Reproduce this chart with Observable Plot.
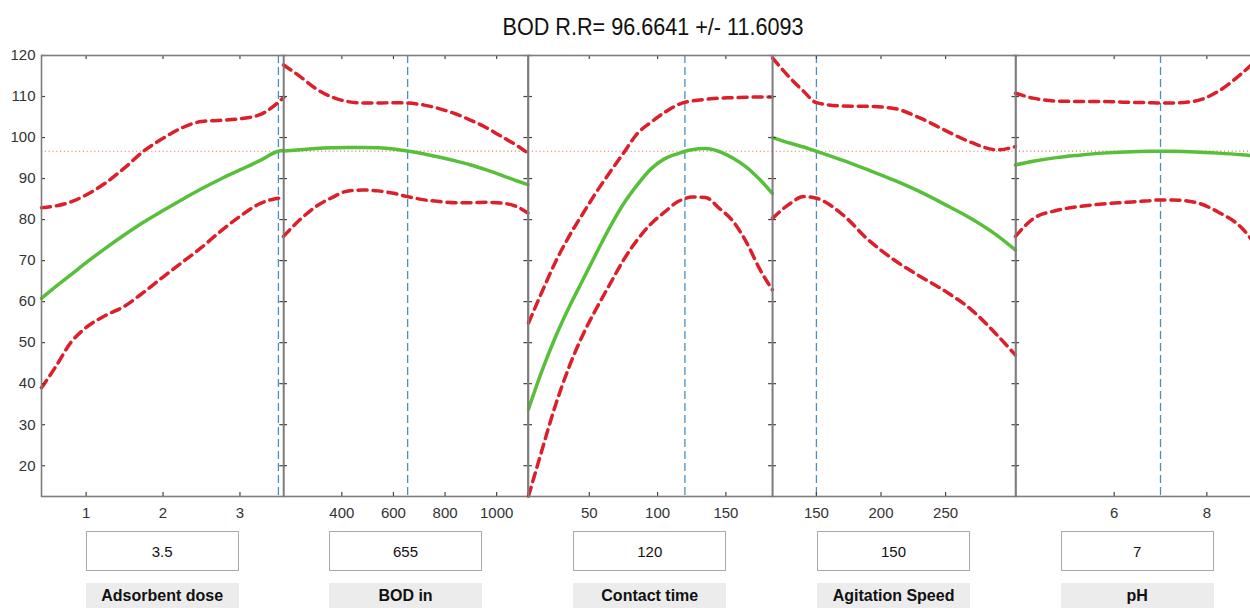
<!DOCTYPE html>
<html>
<head>
<meta charset="utf-8">
<script src="https://cdn.jsdelivr.net/npm/d3@7"></script>
<script src="https://cdn.jsdelivr.net/npm/@observablehq/plot@0.6"></script>
<style>
  html, body { margin: 0; padding: 0; background: #fff; }
  body { width: 1250px; height: 608px; overflow: hidden; position: relative;
         font-family: "Liberation Sans", Arial, Helvetica, sans-serif; }
  #title { position: absolute; left: 353px; width: 600px; top: 13px; text-align: center;
           font-size: 24px; color: #111; white-space: nowrap; transform: scaleX(0.9); }
  .panel { position: absolute; top: 0; }
  .valbox { position: absolute; top: 531px; height: 40px; width: 153px; box-sizing: border-box;
            border: 1px solid #a9a9a9; background: #fff; display: flex; align-items: center;
            justify-content: center; font-size: 15px; color: #111; }
  .namebox { position: absolute; top: 583px; height: 30px; width: 153px; background: #ececec;
             text-align: center; font-size: 16px; font-weight: bold; line-height: 26px; color: #111; }
</style>
</head>
<body>
<div id="title"></div>
<div id="chart"></div>
<script>
// ---------- data ----------
const titleText = "BOD R.R= 96.6641 +/- 11.6093";
const predicted = 96.6641;

const factorNames = ["Adsorbent dose", "BOD in", "Contact time", "Agitation Speed", "pH"];
const currentValues = [3.5, 655, 120, 150, 7];
const xDomains = [[0.42, 3.57], [174, 1121], [5.5, 184.2], [116, 304.5], [3.87, 9.13]];
const xTicks = [[1, 2, 3], [400, 600, 800, 1000], [50, 100, 150], [150, 200, 250], [6, 8]];
const yDomain = [12.5, 120];
const yTicks = [20, 30, 40, 50, 60, 70, 80, 90, 100, 110, 120];

// Adsorbent dose
const doseX     = [0.42, 0.6, 0.8, 1.0, 1.25, 1.5, 1.75, 2.0, 2.25, 2.5, 2.75, 3.0, 3.25, 3.5, 3.57];
const doseFit   = [60.8, 63.6, 66.5, 69.5, 73.0, 76.3, 79.4, 82.2, 84.9, 87.5, 89.9, 92.1, 94.3, 96.66, 96.9];
const doseUpper = [82.9, 83.3, 84.3, 86.0, 88.9, 92.6, 96.7, 99.8, 102.4, 103.9, 104.2, 104.6, 105.5, 108.6, 109.8];
const doseLower = [39.0, 44.0, 50.0, 53.7, 56.6, 58.9, 62.3, 66.0, 69.6, 73.2, 77.2, 80.8, 83.8, 85.2, 85.3];

// BOD in
const bodX     = [174, 240, 300, 360, 420, 480, 540, 600, 655, 720, 780, 840, 900, 960, 1020, 1080, 1121];
const bodFit   = [96.7, 97.0, 97.3, 97.5, 97.6, 97.6, 97.5, 97.2, 96.7, 96.0, 95.2, 94.3, 93.3, 92.1, 90.8, 89.4, 88.5];
const bodUpper = [117.7, 114.8, 111.9, 109.9, 108.8, 108.4, 108.4, 108.5, 108.4, 107.9, 107.0, 105.8, 104.2, 102.4, 100.2, 98.0, 96.2];
const bodLower = [75.9, 80.1, 83.2, 85.3, 86.9, 87.2, 87.0, 86.4, 85.6, 84.8, 84.4, 84.1, 84.1, 84.2, 84.0, 83.1, 81.6];

// Contact time
const timeX     = [5.5, 15, 25, 35, 45, 55, 65, 75, 85, 95, 105, 115, 120, 125, 135, 145, 155, 165, 175, 184];
const timeFit   = [33.8, 42.8, 51.2, 58.5, 65.1, 71.7, 78.1, 83.8, 88.4, 92.3, 94.8, 96.1, 96.66, 97.0, 97.3, 96.6, 95.0, 92.8, 89.7, 86.4];
const timeUpper = [54.8, 62.1, 69.5, 75.8, 81.3, 86.6, 91.5, 96.2, 100.9, 103.7, 106.1, 108.0, 108.6, 108.9, 109.3, 109.6, 109.7, 109.8, 109.9, 109.9];
const timeLower = [12.6, 23.4, 34.5, 43.9, 51.7, 58.2, 64.2, 70.1, 75.0, 78.9, 81.8, 84.4, 85.1, 85.5, 85.4, 82.8, 79.7, 74.5, 67.8, 62.9];

// Agitation speed
const speedX     = [116, 130, 140, 150, 170, 190, 210, 230, 250, 270, 290, 304];
const speedFit   = [100.0, 98.6, 97.7, 96.66, 94.5, 92.1, 89.6, 86.8, 83.6, 80.2, 76.1, 72.6];
const speedUpper = [119.4, 114.4, 111.3, 108.5, 107.7, 107.6, 107.1, 104.8, 101.7, 98.8, 97.0, 97.8];
const speedLower = [80.3, 84.0, 85.6, 85.2, 81.3, 75.1, 70.2, 66.2, 62.5, 58.0, 51.8, 47.0];

// pH
const phX     = [3.87, 4.25, 4.75, 5.25, 5.75, 6.25, 6.75, 7.0, 7.25, 7.75, 8.25, 8.75, 9.13];
const phFit   = [93.3, 94.2, 95.1, 95.7, 96.2, 96.5, 96.65, 96.66, 96.65, 96.5, 96.2, 95.8, 95.4];
const phUpper = [110.8, 109.6, 108.9, 108.8, 108.8, 108.6, 108.5, 108.4, 108.4, 108.9, 111.3, 115.6, 119.5];
const phLower = [75.9, 80.2, 82.2, 83.2, 83.8, 84.2, 84.6, 84.8, 84.8, 84.2, 81.8, 78.0, 72.5];

const panels = [
  {x: doseX,  fit: doseFit,  upper: doseUpper,  lower: doseLower},
  {x: bodX,   fit: bodFit,   upper: bodUpper,   lower: bodLower},
  {x: timeX,  fit: timeFit,  upper: timeUpper,  lower: timeLower},
  {x: speedX, fit: speedFit, upper: speedUpper, lower: speedLower},
  {x: phX,    fit: phFit,    upper: phUpper,    lower: phLower}
];

// ---------- layout & style ----------
const edges = [41, 283.3, 527.7, 771.8, 1015.3, 1259];
const mTop = 55, plotH = 441, mBottom = 32;
const axisColor = "#7d7d7d";
const green = "#58bf3a", red = "#dc1f2a", blue = "#4a8ec2", dotted = "#d9876a";
const fontFamily = '"Liberation Sans", Arial, Helvetica, sans-serif';

document.getElementById("title").textContent = titleText;
const chart = document.getElementById("chart");

panels.forEach((p, i) => {
  const mL = i === 0 ? 41 : 4, mR = 4;
  const pw = edges[i + 1] - edges[i];
  const xd = xDomains[i];
  const tx = 4 * (xd[1] - xd[0]) / pw;               // 4px inward tick, in x units
  const ty = 4 * (yDomain[1] - yDomain[0]) / plotH;  // 4px inward tick, in y units
  const svg = Plot.plot({
    width: mL + pw + mR,
    height: mTop + plotH + mBottom,
    marginTop: mTop, marginBottom: mBottom, marginLeft: mL, marginRight: mR,
    x: {domain: xd},
    y: {domain: yDomain, axis: i === 0 ? undefined : null},
    style: {background: "transparent", fontFamily, fontSize: "15px", color: "#333", overflow: "visible"},
    marks: [
      Plot.ruleY([predicted], {stroke: dotted, strokeWidth: 1.2, strokeDasharray: "1.2,2.6"}),
      Plot.ruleX([currentValues[i]], {stroke: blue, strokeWidth: 1.3, strokeDasharray: "8,4"}),
      Plot.lineY(p.upper, {x: p.x, curve: "monotone-x", stroke: red, strokeWidth: 3.5, strokeDasharray: "9,6"}),
      Plot.lineY(p.lower, {x: p.x, curve: "monotone-x", stroke: red, strokeWidth: 3.5, strokeDasharray: "9,6"}),
      Plot.lineY(p.fit, {x: p.x, curve: "monotone-x", stroke: green, strokeWidth: 3.5}),
      Plot.ruleX(xTicks[i], {y1: yDomain[0], y2: yDomain[0] + ty, stroke: "#444", strokeWidth: 1.2}),
      Plot.ruleX(xTicks[i], {y1: yDomain[1] - ty, y2: yDomain[1], stroke: "#444", strokeWidth: 1.2}),
      Plot.ruleY(yTicks, {x1: xd[0], x2: xd[0] + tx, stroke: "#444", strokeWidth: 1.2}),
      Plot.ruleY(yTicks, {x1: xd[1] - tx, x2: xd[1], stroke: "#444", strokeWidth: 1.2}),
      Plot.frame({stroke: axisColor, strokeWidth: 1.6}),
      Plot.axisX(xTicks[i], {tickSize: 0, tickPadding: 11, fontSize: 15, fill: "#333", tickFormat: d => String(d)}),
      i === 0 ? Plot.axisY(yTicks, {tickSize: 0, tickPadding: 6, fontSize: 15, fill: "#333", tickFormat: d => String(d)}) : null
    ]
  });
  svg.classList.add("panel");
  svg.style.left = (edges[i] - mL) + "px";
  svg.style.maxWidth = "none";
  chart.appendChild(svg);

  const cx = (edges[i] + edges[i + 1]) / 2;
  const vb = document.createElement("div");
  vb.className = "valbox";
  vb.style.left = (cx - 76.5) + "px";
  vb.textContent = String(currentValues[i]);
  chart.appendChild(vb);

  const nb = document.createElement("div");
  nb.className = "namebox";
  nb.style.left = (cx - 76.5) + "px";
  nb.textContent = factorNames[i];
  chart.appendChild(nb);
});
</script>
</body>
</html>
